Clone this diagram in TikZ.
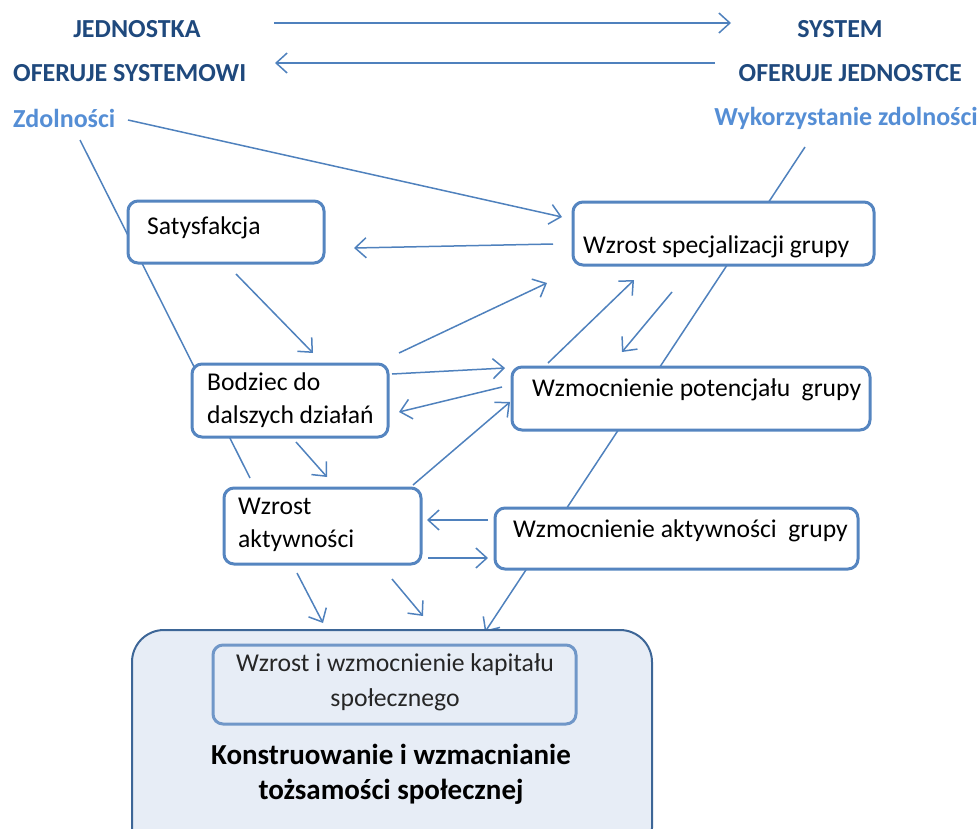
\documentclass[tikz,border=0pt]{standalone}
\usepackage{fontspec}
\setmainfont{Carlito}
\usetikzlibrary{arrows.meta}
\definecolor{ln}{HTML}{4F81BD}
\definecolor{bx}{HTML}{5585C0}
\definecolor{navy}{HTML}{1F497D}
\definecolor{lblue}{HTML}{558ED5}
\definecolor{bigfill}{HTML}{E7EDF6}
\definecolor{bigdraw}{HTML}{3D6697}
\definecolor{inbx}{HTML}{7097C8}
\definecolor{intx}{HTML}{262626}
\tikzset{
  arr/.style={draw=ln, line width=1.5pt, -{Straight Barb[length=11pt,width=20pt,line width=1.5pt]}},
  plain/.style={draw=ln, line width=1.5pt},
  box/.style={draw=bx, line width=3pt, rounded corners=10pt, fill=white, inner sep=0pt},
  txt/.style={inner sep=0pt, font=\fontsize{25.6}{33}\selectfont, text=black},
  ttl/.style={inner sep=0pt, font=\fontsize{26}{30}\selectfont\bfseries, text=navy},
  lbl/.style={inner sep=0pt, font=\fontsize{26}{30}\selectfont\bfseries, text=lblue},
}
\begin{document}
\begin{tikzpicture}[x=1pt,y=-1pt]
\useasboundingbox (0,0) rectangle (980,828);
\clip (0,0) rectangle (980,828);

% headers
\node[ttl] (jed) at (137,29) {JEDNOSTKA};
\node[ttl] (sys) at (840,29) {SYSTEM};
\node[ttl, anchor=west] (ofs) at (13,73) {OFERUJE SYSTEMOWI};
\node[ttl, anchor=east] (ofj) at (962,73) {OFERUJE JEDNOSTCE};
\node[lbl, anchor=west] (zd) at (13,118) {Zdolności};
\node[lbl, anchor=east] (wz) at (978,118) {Wykorzystanie zdolności};

% coordinates for connectors
\coordinate (t1s) at (274,23); \coordinate (t1e) at (731,23);
\coordinate (t2s) at (715,63); \coordinate (t2e) at (275,63);
\coordinate (l1s) at (80,140); \coordinate (l1e) at (250,478);
\coordinate (l2s) at (805,147); \coordinate (l2e) at (485,632);

\draw[arr, line width=1.8pt] (t1s) -- (t1e);
\draw[arr, line width=1.8pt] (t2s) -- (t2e);

% long background lines
\draw[plain] (l1s) -- (l1e);
\draw[arr] (l2s) -- (l2e);

% big box
\node[draw=bigdraw, fill=bigfill, line width=2pt, rounded corners=32pt, minimum width=520pt, minimum height=230pt, inner sep=0pt] (big) at (392,745) {};
\node[draw=inbx, fill=bigfill, line width=3pt, rounded corners=10pt, minimum width=363pt, minimum height=79pt, inner sep=0pt] (inb) at (394.5,684.5) {};
\node[inner sep=0pt, align=center, text=intx, font=\fontsize{25.7}{35}\selectfont] (inbT) at (395,682) {Wzrost i wzmocnienie kapitału\\społecznego};
\node[inner sep=0pt, align=center, text=black, font=\fontsize{29}{35}\selectfont\bfseries] (bigT) at (391,774) {Konstruowanie i wzmacnianie\\tożsamości społecznej};

% boxes
\node[box, minimum width=196pt, minimum height=62pt] (sat) at (226,232) {};
\node[box, minimum width=301pt, minimum height=63pt] (spec) at (723.5,233.5) {};
\node[box, minimum width=196pt, minimum height=73pt] (bod) at (290,400.5) {};
\node[box, minimum width=358pt, minimum height=63pt] (pot) at (691,398.5) {};
\node[box, minimum width=197pt, minimum height=76pt] (akt) at (322.5,526) {};
\node[box, minimum width=363pt, minimum height=61pt] (aktg) at (676.5,538.5) {};

\node[txt, anchor=west] (satT) at (147,228) {Satysfakcja};
\node[txt, anchor=west] (specT) at (583,247) {Wzrost specjalizacji grupy};
\node[txt, anchor=west, align=left] (bodT) at (207,400) {Bodziec do\\dalszych działań};
\node[txt, anchor=west] (potT) at (532,390) {Wzmocnienie potencjału\ \ grupy};
\node[txt, anchor=west, align=left] (aktT) at (238,525) {Wzrost\\aktywności};
\node[txt, anchor=west] (aktgT) at (513,531) {Wzmocnienie aktywności\ \ grupy};

% arrow endpoints
\coordinate (a1s) at (128,120); \coordinate (a1e) at (562,217);
\coordinate (a2s) at (553,244); \coordinate (a2e) at (354,248);
\coordinate (a3s) at (236,274); \coordinate (a3e) at (313,353);
\coordinate (a4s) at (399,353); \coordinate (a4e) at (547,283);
\coordinate (a5s) at (392,374); \coordinate (a5e) at (505,368);
\coordinate (a6s) at (502,387); \coordinate (a6e) at (399,412);
\coordinate (a7s) at (413,485); \coordinate (a7e) at (510,402);
\coordinate (a8s) at (548,363); \coordinate (a8e) at (634,280);
\coordinate (a9s) at (672,292); \coordinate (a9e) at (622,352);
\coordinate (a10s) at (296,442); \coordinate (a10e) at (327,477);
\coordinate (a11s) at (488,520); \coordinate (a11e) at (427,520);
\coordinate (a12s) at (428,558); \coordinate (a12e) at (488,558);
\coordinate (a13s) at (297,573); \coordinate (a13e) at (323,623);
\coordinate (a14s) at (392,579); \coordinate (a14e) at (423,616);

\foreach \i in {1,...,14}{\draw[arr] (a\i s) -- (a\i e);}
\end{tikzpicture}
\end{document}
